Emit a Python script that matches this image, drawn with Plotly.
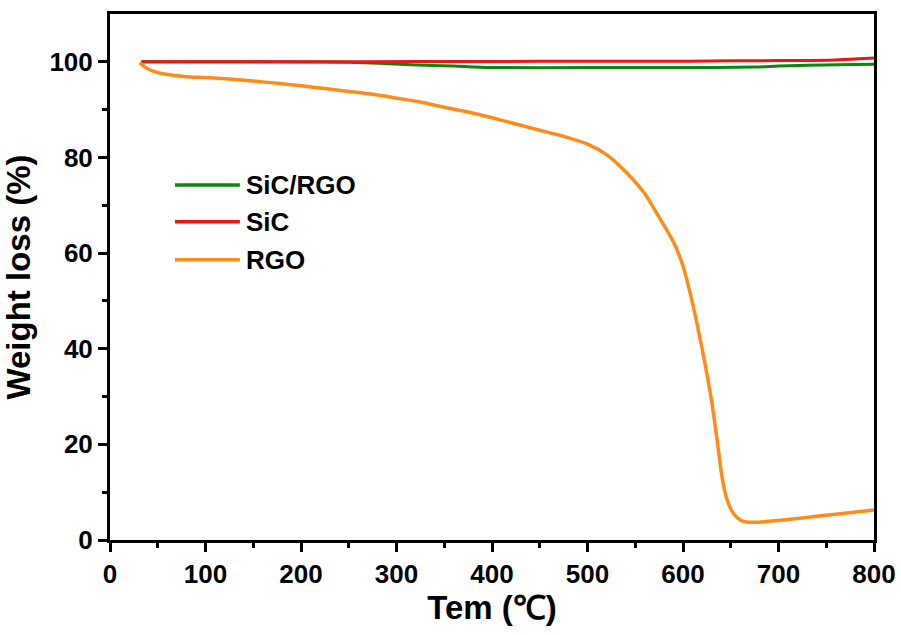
import plotly.graph_objects as go

# ---- data ----
rgo_x = [31, 33, 36, 40, 46, 55, 66, 80, 100, 125, 150, 175, 200, 225, 250, 275, 300, 325, 350, 375,
         400, 425, 450, 475, 500, 520, 540, 560, 575, 590, 600, 610, 620, 630, 636, 641, 646, 653, 660,
         665, 675, 690, 720, 760, 800]
rgo_y = [99.8, 99.5, 99.0, 98.5, 98.0, 97.5, 97.2, 96.9, 96.7, 96.4, 96.0, 95.5, 95.0, 94.4, 93.8, 93.2,
         92.4, 91.6, 90.5, 89.5, 88.3, 87.0, 85.7, 84.4, 82.8, 80.6, 77.0, 72.4, 67.5, 62.3, 57.3, 49.5,
         40.0, 29.0, 20.5, 13.0, 8.5, 5.5, 4.2, 3.8, 3.7, 3.9, 4.5, 5.4, 6.3]

sic_x = [33, 200, 330, 450, 560, 653, 700, 760, 790, 800]
sic_y = [100.0, 100.0, 100.05, 100.1, 100.1, 100.2, 100.25, 100.4, 100.7, 100.8]

sicrgo_x = [33, 250, 315, 360, 398, 500, 600, 676, 700, 763, 800]
sicrgo_y = [100.0, 99.9, 99.4, 99.1, 98.8, 98.8, 98.8, 98.9, 99.1, 99.4, 99.5]

series_names = ["SiC/RGO", "SiC", "RGO"]
series_colors = ["#0a870a", "#f01414", "#ff8c1a"]

x_ticks = [0, 100, 200, 300, 400, 500, 600, 700, 800]
y_ticks = [0, 20, 40, 60, 80, 100]

FONT = "Liberation Sans, Arial, sans-serif"

fig = go.Figure()
for xs, ys, name, col, w in [(sicrgo_x, sicrgo_y, series_names[0], series_colors[0], 3),
                             (sic_x, sic_y, series_names[1], series_colors[1], 3),
                             (rgo_x, rgo_y, series_names[2], series_colors[2], 3.5)]:
    fig.add_trace(go.Scatter(x=xs, y=ys, mode="lines", name=name,
                             line=dict(color=col, width=w, shape="spline", smoothing=0.6),
                             showlegend=False))

# manual legend (long line samples like the reference)
leg_rows = [0.675, 0.605, 0.533]
for name, col, yy in zip(series_names, series_colors, leg_rows):
    fig.add_shape(type="line", xref="paper", yref="paper", x0=0.085, x1=0.170, y0=yy, y1=yy,
                  line=dict(color=col, width=3.5))
    fig.add_annotation(xref="paper", yref="paper", x=0.176, y=yy, text=name, showarrow=False,
                       xanchor="left", yanchor="middle",
                       font=dict(family=FONT, size=26, color="black", weight="bold"))

axis_common = dict(showline=True, linecolor="black", linewidth=3, mirror=True,
                   ticks="outside", ticklen=9, tickwidth=3, tickcolor="black",
                   showgrid=False, zeroline=False, automargin=False,
                   tickfont=dict(family=FONT, size=26, color="black", weight="bold"))

fig.update_xaxes(range=[0, 800], tickvals=x_ticks,
                 minor=dict(ticks="outside", ticklen=5, tickwidth=3, tickvals=[50, 150, 250, 350, 450, 550, 650, 750],
                            tickcolor="black", showgrid=False),
                 title=dict(text="Tem (℃)", standoff=6,
                            font=dict(family=FONT, size=33, color="black", weight="bold")),
                 **axis_common)
fig.update_yaxes(range=[0, 110], tickvals=y_ticks,
                 minor=dict(ticks="outside", ticklen=5, tickwidth=3, tickvals=[10, 30, 50, 70, 90],
                            tickcolor="black", showgrid=False),
                 title=dict(text="Weight loss (%)", standoff=10,
                            font=dict(family=FONT, size=33, color="black", weight="bold")),
                 **axis_common)

fig.update_layout(width=901, height=635, paper_bgcolor="white", plot_bgcolor="white",
                  margin=dict(l=110, r=27, t=14, b=95), showlegend=False)

fig.write_html("out.html")
